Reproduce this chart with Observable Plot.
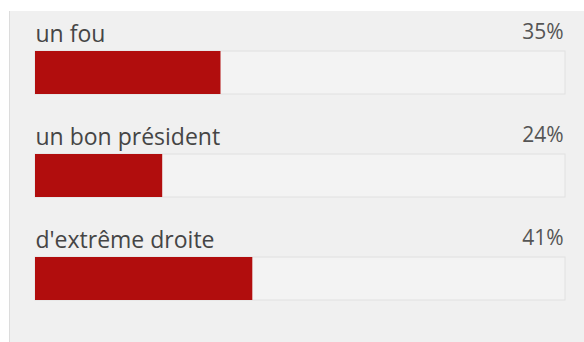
<!DOCTYPE html>
<html>
<head>
<meta charset="utf-8">
<script src="https://cdn.jsdelivr.net/npm/d3@7"></script>
<script src="https://cdn.jsdelivr.net/npm/@observablehq/plot@0.6"></script>
<style>
  html, body { margin: 0; padding: 0; background: #ffffff; }
  #wrap { position: relative; width: 584px; height: 342px; overflow: hidden; }
  #panel { position: absolute; left: 9px; top: 11px; width: 575px; height: 331px; background: #f0f0f0; border-left: 1px solid #dcdcdc; box-sizing: border-box; }
  #chart { position: absolute; left: 0; top: 0; }
  #chart svg { background: transparent; }
</style>
</head>
<body>
<div id="wrap"><div id="panel"></div><div id="chart"></div></div>
<script>
const categories = ["un fou", "un bon président", "d'extrême droite"];
const values = [35, 24, 41];
const valueLabels = ["35%", "24%", "41%"];

const data = categories.map((c, i) => ({category: c, value: values[i], label: valueLabels[i]}));

const font = "'Open Sans', 'Noto Sans', sans-serif";

const chart = Plot.plot({
  width: 584,
  height: 342,
  marginLeft: 35,
  marginRight: 19,
  marginTop: 0,
  marginBottom: 0,
  style: {background: "transparent", fontFamily: font},
  x: {domain: [0, 100], axis: null},
  y: {domain: categories, range: [50, 301], paddingInner: 0.5865, paddingOuter: 0, axis: null},
  marks: [
    Plot.barX(data, {x1: 0, x2: 100, y: "category", fill: "#f3f3f3", stroke: "#e0e0e0", strokeWidth: 1}),
    Plot.barX(data, {x1: 0, x2: "value", y: "category", fill: "#b10d0d"}),
    Plot.text(data, {x: 0, y: "category", text: "category", textAnchor: "start", lineAnchor: "bottom", dy: -31.5, fontSize: 23, fill: "#454545"}),
    Plot.text(data, {x: 100, y: "category", text: "label", textAnchor: "end", lineAnchor: "bottom", dx: -2, dy: -34, fontSize: 21, fill: "#555555"})
  ]
});
document.getElementById("chart").appendChild(chart);
</script>
</body>
</html>
